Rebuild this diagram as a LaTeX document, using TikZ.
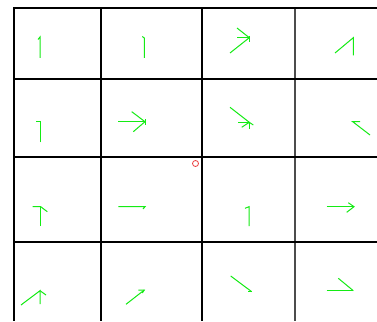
\documentclass[tikz,border=0pt]{standalone}
\begin{document}
\begin{tikzpicture}[x=1pt,y=-1pt,
  gridline/.style={black,line width=2pt},
  gridthin/.style={black!70,line width=1.6pt},
  vec/.style={draw={rgb,255:red,20;green,235;blue,20},line width=1pt},
  marker/.style={draw={rgb,255:red,235;green,60;blue,60},line width=0.8pt}]
\useasboundingbox[fill=white] (0,0) rectangle (377,321);
% grid
\foreach \x in {14,101,202} \draw[gridline] (\x,8) -- (\x,321);
\draw[gridthin] (295,8) -- (295,321);
\foreach \y in {8,79,156.5,242} \draw[gridline] (13,\y) -- (377,\y);
% red marker
\draw[marker] (195.5,163.5) circle (3);
% row 1
\draw[vec] (40,58) -- (40,37) -- (38,39.5);
\draw[vec] (144.3,58) -- (144.3,38) -- (142.3,36.5);
\draw[vec] (230,53) -- (249.3,37.7);
\draw[vec] (237,28) -- (249.3,37.7);
\draw[vec] (237,37.7) -- (249.3,37.7);
\draw[vec] (249.3,36) -- (249.3,42);
\draw[vec] (335,53) -- (353.3,37.7) -- (353.3,55.3);
% row 2
\draw[vec] (40,142.3) -- (40,121.7);
\draw[vec] (36,121.7) -- (41,121.7);
\draw[vec] (118.3,121.7) -- (145,121.7);
\draw[vec] (131.7,111.7) -- (145,121.7);
\draw[vec] (133.3,131.7) -- (145,121.7);
\draw[vec] (145,119) -- (145,125);
\draw[vec] (230,107.3) -- (249.3,122.3);
\draw[vec] (238.3,122.3) -- (249.3,122.3);
\draw[vec] (241.7,127.3) -- (249.3,122.3);
\draw[vec] (249.3,122.3) -- (249.3,129);
\draw[vec] (249.3,122.3) -- (253.3,125);
\draw[vec] (370,135) -- (352.7,121.7) -- (360,121.7);
% row 3
\draw[vec] (40,226) -- (40,206.7);
\draw[vec] (32.7,206.7) -- (40.7,206.7) -- (47.3,211.7);
\draw[vec] (118.3,206.7) -- (145,206.7) -- (143,209);
\draw[vec] (249,226) -- (249,206.7) -- (245,208.3);
\draw[vec] (326.7,206.7) -- (354,206.7);
\draw[vec] (348.3,202.7) -- (354,206.7) -- (346.7,212.3);
% row 4
\draw[vec] (21,305) -- (40,290.7) -- (40,304);
\draw[vec] (40,290.7) -- (46,295);
\draw[vec] (126,304.3) -- (144.3,290);
\draw[vec] (138.3,290) -- (144.3,290) -- (142.3,293);
\draw[vec] (230.7,276) -- (251.7,291.7);
\draw[vec] (248,291.5) -- (252,291.5);
\draw[vec] (326.7,290.7) -- (353.3,290.7);
\draw[vec] (338.3,278.3) -- (353.3,290.7);
\end{tikzpicture}
\end{document}
